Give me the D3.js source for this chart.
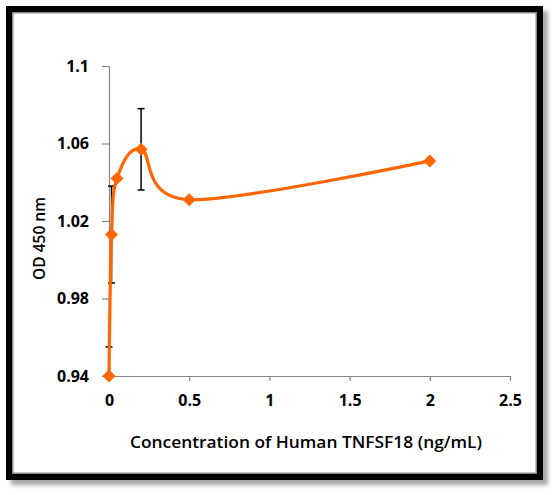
<!DOCTYPE html>
<html>
<head>
<meta charset="utf-8">
<script src="https://cdn.jsdelivr.net/npm/d3@7"></script>
<style>
  html, body { margin: 0; padding: 0; background: #ffffff; }
  svg { display: block; }
</style>
</head>
<body>
<svg id="chart" width="557" height="495"></svg>
<script>
// ---- data ----
const concentrations = [0, 0.016, 0.05, 0.2, 0.5, 2];
const odValues       = [0.940, 1.013, 1.042, 1.057, 1.031, 1.051];
const errValues      = [0.015, 0.025, 0.001, 0.021, 0.001, 0.001];
const xTicks = [0, 0.5, 1, 1.5, 2, 2.5];
const xTickLabels = ["0", "0.5", "1", "1.5", "2", "2.5"];
const yTicks = [0.94, 0.98, 1.02, 1.06, 1.1];
const yTickLabels = ["0.94", "0.98", "1.02", "1.06", "1.1"];
const xTitle = "Concentration of Human TNFSF18 (ng/mL)";
const yTitle = "OD 450 nm";

const points = concentrations.map((c, i) => ({ x: c, y: odValues[i], e: errValues[i] }));

const svg = d3.select("#chart");
const font = "'Open Sans', 'Noto Sans', sans-serif";

// ---- frame with shadow ----
const defs = svg.append("defs");
const f = defs.append("filter").attr("id", "shadow")
  .attr("x", "-5%").attr("y", "-5%").attr("width", "115%").attr("height", "115%");
f.append("feDropShadow").attr("dx", 5).attr("dy", 5).attr("stdDeviation", 2)
  .attr("flood-color", "#000").attr("flood-opacity", 0.35);

svg.append("rect").attr("x", 6).attr("y", 6).attr("width", 537).attr("height", 474)
  .attr("fill", "#000").attr("filter", "url(#shadow)");
svg.append("rect").attr("x", 12.75).attr("y", 12.75).attr("width", 523.5).attr("height", 460.5)
  .attr("fill", "#fff").attr("stroke", "#8a8a8a").attr("stroke-width", 1.5);

// ---- scales ----
const x = d3.scaleLinear().domain([0, 2.5]).range([109, 510]);
const y = d3.scaleLinear().domain([0.94, 1.1]).range([376, 66]);

defs.append("clipPath").attr("id", "plotclip").append("rect")
  .attr("x", x(0) - 10).attr("y", y(1.1)).attr("width", x(2.5) - x(0) + 20).attr("height", y(0.94) - y(1.1));

// ---- axes ----
const axisColor = "#868686";
const xAxis = d3.axisBottom(x).tickValues(xTicks).tickFormat((d, i) => xTickLabels[i])
  .tickSize(5).tickSizeOuter(0).tickPadding(14);
const gx = svg.append("g").attr("transform", `translate(0,${y(0.94)})`).call(xAxis);

const yAxis = d3.axisLeft(y).tickValues(yTicks).tickFormat((d, i) => yTickLabels[i])
  .tickSize(7).tickSizeOuter(0).tickPadding(13);
const gy = svg.append("g").attr("transform", `translate(${x(0)},0)`).call(yAxis);

[gx, gy].forEach(g => {
  g.select(".domain").attr("stroke", axisColor).attr("stroke-width", 1.2);
  g.selectAll(".tick line").attr("stroke", axisColor).attr("stroke-width", 1.2);
  g.selectAll(".tick text").attr("fill", "#000").attr("font-family", font)
    .attr("font-weight", "bold").attr("font-size", 16);
});

// ---- error bars ----
const eb = svg.append("g").attr("clip-path", "url(#plotclip)")
  .attr("stroke", "#000").attr("stroke-width", 1.5);
points.forEach(p => {
  const px = x(p.x), top = y(p.y + p.e), bot = y(p.y - p.e);
  eb.append("line").attr("x1", px).attr("x2", px).attr("y1", top).attr("y2", bot);
  eb.append("line").attr("x1", px - 3.5).attr("x2", px + 3.5).attr("y1", top).attr("y2", top);
  eb.append("line").attr("x1", px - 3.5).attr("x2", px + 3.5).attr("y1", bot).attr("y2", bot);
});

// ---- smoothed line ----
const orange = "#FF6600";
const line = d3.line().x(d => x(d.x)).y(d => y(d.y)).curve(d3.curveCardinal.tension(0));
svg.append("path").datum(points).attr("d", line)
  .attr("fill", "none").attr("stroke", orange).attr("stroke-width", 3.2)
  .attr("stroke-linejoin", "round");

// ---- diamond markers ----
const diamond = {
  draw(ctx, size) {
    const r = Math.sqrt(size / 2);
    ctx.moveTo(0, -r); ctx.lineTo(r, 0); ctx.lineTo(0, r); ctx.lineTo(-r, 0); ctx.closePath();
  }
};
svg.append("g").selectAll("path").data(points).join("path")
  .attr("transform", d => `translate(${x(d.x)},${y(d.y)})`)
  .attr("d", d3.symbol().type(diamond).size(84))
  .attr("fill", orange);

// ---- axis titles ----
svg.append("text").attr("x", 130).attr("y", 448)
  .attr("font-family", font).attr("font-weight", 600).attr("font-size", 15.5)
  .attr("textLength", 352).attr("lengthAdjust", "spacingAndGlyphs")
  .attr("fill", "#000").text(xTitle);

svg.append("text").attr("transform", "translate(40,238.5) rotate(-90)")
  .attr("text-anchor", "middle").attr("dy", "0.35em")
  .attr("font-family", font).attr("font-weight", 600).attr("font-size", 15.5)
  .attr("fill", "#000").text(yTitle);
</script>
</body>
</html>
